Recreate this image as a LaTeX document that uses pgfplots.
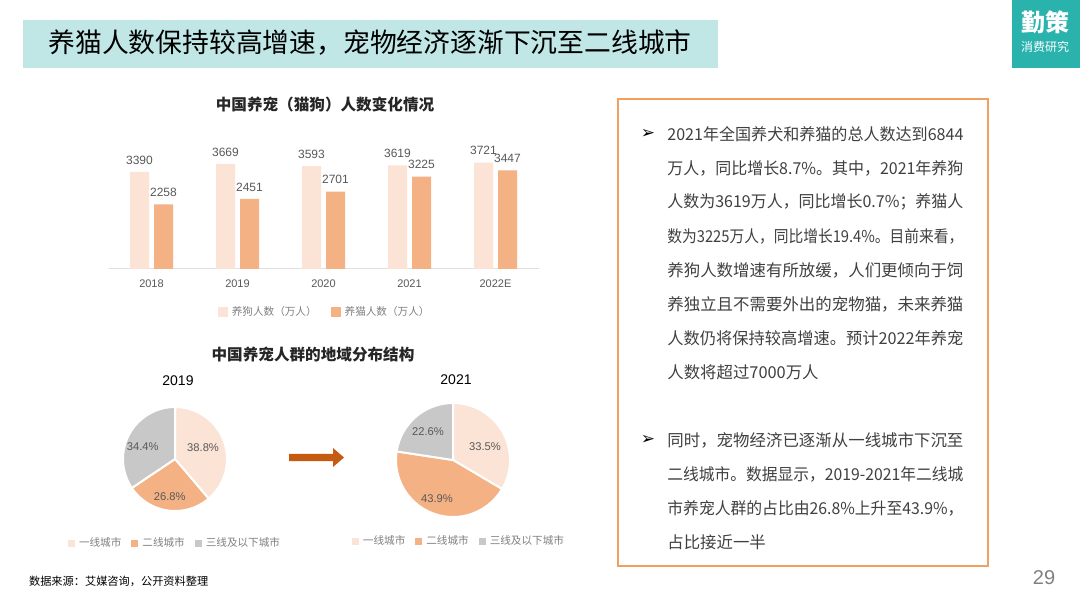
\documentclass[border=0pt]{standalone}
\usepackage{pgfplots}
\pgfplotsset{compat=1.18}
\usepackage{graphicx}
\usepackage{fontspec}
\setmainfont{Noto Sans CJK SC}
\newfontfamily\arial{Liberation Sans}
\newfontfamily\dejavu{DejaVu Sans}
\definecolor{banner}{HTML}{C0E6E6}
\definecolor{logoc}{HTML}{2AB3AD}
\definecolor{dogc}{HTML}{FBE3D6}
\definecolor{catc}{HTML}{F4B183}
\definecolor{grayc}{HTML}{C8C8C8}
\definecolor{txtgray}{HTML}{595959}
\definecolor{leggray}{HTML}{808080}
\definecolor{linegray}{HTML}{E0E0E0}
\definecolor{arrowc}{HTML}{C55A11}
\definecolor{boxc}{HTML}{F0A060}
\definecolor{bodyc}{HTML}{404040}
\pgfplotsset{
 sqleg/.style={legend image code/.code={\fill[##1,draw=none] (0pt,-2.5pt) rectangle (5pt,2.5pt);}},
 sqlegs/.style={legend image code/.code={\fill[##1,draw=none] (0pt,-1.75pt) rectangle (3.5pt,1.75pt);}},
}
\newcommand\tb{\fontsize{8.2}{9}\selectfont}
\newcommand\jl[1]{\resizebox{148pt}{\height}{#1}}
\begin{document}
\begin{tikzpicture}
\begin{scope}[x=0.5pt,y=-0.5pt]
\fill[white] (0,0) rectangle (1080,608);
\useasboundingbox (0,0) rectangle (1080,608);
% title banner
\fill[banner] (23,20) rectangle (718,68);
\node[font=\fontsize{13.4}{14}\selectfont, text=black] at (370,43) {养猫人数保持较高增速，宠物经济逐渐下沉至二线城市};
% logo
\fill[logoc] (1012,0) rectangle (1080,68);
\node[font=\fontsize{12}{12}\selectfont\bfseries, text=white] at (1045,22) {勤策};
\node[font=\fontsize{6}{6}\selectfont, text=white] at (1045,47) {消费研究};
% chart titles
\node[font=\fontsize{7.8}{8}\selectfont\bfseries, text=black!85] at (325,105) {中国养宠（猫狗）人数变化情况};
\node[font=\fontsize{7.8}{8}\selectfont\bfseries, text=black!85] at (313,355) {中国养宠人群的地域分布结构};
\node[font=\arial\fontsize{7}{8}\selectfont, text=black] at (178,381) {2019};
\node[font=\arial\fontsize{7}{8}\selectfont, text=black] at (456,380) {2021};
% arrow
\fill[arrowc] (289,454) -- (333,454) -- (333,448) -- (344,457.5) -- (333,467) -- (333,461) -- (289,461) -- cycle;
% text box
\draw[boxc, line width=1pt] (618,99) rectangle (988,566);
\node[font=\dejavu\fontsize{8.5}{9}\selectfont, text=black] at (648,134) {➢};
\node[font=\dejavu\fontsize{8.5}{9}\selectfont, text=black] at (648,440) {➢};
\begin{scope}[every node/.style={anchor=west, font=\tb, text=bodyc, inner sep=0pt}]
\node at (667,134) {\jl{2021年全国养犬和养猫的总人数达到6844}};
\node at (667,168) {\jl{万人，同比增长8.7\%。其中，2021年养狗}};
\node at (667,202) {\jl{人数为3619万人，同比增长0.7\%；养猫人}};
\node at (667,236) {\jl{数为3225万人，同比增长19.4\%。目前来看，}};
\node at (667,270) {\jl{养狗人数增速有所放缓，人们更倾向于饲}};
\node at (667,304) {\jl{养独立且不需要外出的宠物猫，未来养猫}};
\node at (667,338) {\jl{人数仍将保持较高增速。预计2022年养宠}};
\node at (667,372) {人数将超过7000万人};
\node at (667,440) {\jl{同时，宠物经济已逐渐从一线城市下沉至}};
\node at (667,474) {\jl{二线城市。数据显示，2019-2021年二线城}};
\node at (667,508) {\jl{市养宠人群的占比由26.8\%上升至43.9\%，}};
\node at (667,542) {占比接近一半};
\end{scope}
% footer
\node[anchor=west, font=\fontsize{5.6}{6}\selectfont, text=black] at (22,581) {数据来源：艾媒咨询，公开资料整理};
\node[font=\arial\fontsize{10}{10}\selectfont, text=leggray] at (1044,578) {29};
\end{scope}

% bar chart
\begin{axis}[
  at={(54.25pt,-134.5pt)}, anchor=south west, scale only axis,
  width=215pt, height=60.1pt,
  xmin=-0.5, xmax=4.5, ymin=0, ymax=4200,
  ybar=2.5pt, bar width=9.5pt,
  axis x line*=bottom, axis y line=none,
  axis line style={draw=linegray, line width=0.5pt},
  xtick={0,1,2,3,4}, xticklabels={2018,2019,2020,2021,2022E},
  major tick length=0pt,
  xticklabel style={font=\arial\fontsize{5.5}{6}\selectfont, text=txtgray, yshift=-2pt},
  /pgf/number format/fixed, /pgf/number format/precision=0,
  /pgf/number format/1000 sep={}, /pgf/number format/assume math mode=true,
  point meta=y,
  nodes near coords,
  nodes near coords style={font=\arial\fontsize{6}{7}\selectfont, text=txtgray, yshift=0.3pt},
  legend style={at={(0.505,-0.358)}, anchor=center, legend columns=2, draw=none, fill=none,
    font=\fontsize{5.3}{6}\selectfont, text=leggray,
    /tikz/every even column/.append style={column sep=5pt}},
]
\addplot[fill=dogc, draw=none, sqleg] coordinates {(0,3390) (1,3669) (2,3593) (3,3619) (4,3721)};
\addplot[fill=catc, draw=none, sqleg] coordinates {(0,2258) (1,2451) (2,2701) (3,3225) (4,3447)};
\legend{养狗人数（万人）,养猫人数（万人）}
\end{axis}

% pie 2019
\begin{axis}[
  at={(87.5pt,-229.5pt)}, anchor=center, scale only axis,
  width=52pt, height=52pt, xmin=-1, xmax=1, ymin=-1, ymax=1,
  hide axis, clip=false, sqlegs,
  legend style={at={(0.51,-0.308)}, anchor=center, legend columns=3, draw=none, fill=none,
    font=\fontsize{5.3}{6}\selectfont, text=leggray,
    /tikz/every even column/.append style={column sep=3pt}},
]
\addlegendimage{fill=dogc}\addlegendentry{一线城市}
\addlegendimage{fill=catc}\addlegendentry{二线城市}
\addlegendimage{fill=grayc}\addlegendentry{三线及以下城市}
\fill[dogc, draw=white, line width=1pt] (axis cs:0,0) -- ++(90:26pt) arc[start angle=90, delta angle={-38.8*3.6}, radius=26pt] -- cycle;
\fill[catc, draw=white, line width=1pt] (axis cs:0,0) -- ++({90-38.8*3.6}:26pt) arc[start angle={90-38.8*3.6}, delta angle={-26.8*3.6}, radius=26pt] -- cycle;
\fill[grayc, draw=white, line width=1pt] (axis cs:0,0) -- ++({90-65.6*3.6}:26pt) arc[start angle={90-65.6*3.6}, delta angle={-34.4*3.6}, radius=26pt] -- cycle;
\node[font=\arial\fontsize{5.6}{6}\selectfont, text=txtgray] at (axis cs:0.54,0.21) {38.8\%};
\node[font=\arial\fontsize{5.6}{6}\selectfont, text=txtgray] at (axis cs:-0.10,-0.73) {26.8\%};
\node[font=\arial\fontsize{5.6}{6}\selectfont, text=txtgray] at (axis cs:-0.62,0.23) {34.4\%};
\end{axis}

% pie 2021
\begin{axis}[
  at={(226.5pt,-230pt)}, anchor=center, scale only axis,
  width=57pt, height=57pt, xmin=-1, xmax=1, ymin=-1, ymax=1,
  hide axis, clip=false, sqlegs,
  legend style={at={(0.561,-0.219)}, anchor=center, legend columns=3, draw=none, fill=none,
    font=\fontsize{5.3}{6}\selectfont, text=leggray,
    /tikz/every even column/.append style={column sep=3pt}},
]
\addlegendimage{fill=dogc}\addlegendentry{一线城市}
\addlegendimage{fill=catc}\addlegendentry{二线城市}
\addlegendimage{fill=grayc}\addlegendentry{三线及以下城市}
\fill[dogc, draw=white, line width=1pt] (axis cs:0,0) -- ++(90:28.5pt) arc[start angle=90, delta angle={-33.5*3.6}, radius=28.5pt] -- cycle;
\fill[catc, draw=white, line width=1pt] (axis cs:0,0) -- ++({90-33.5*3.6}:28.5pt) arc[start angle={90-33.5*3.6}, delta angle={-43.9*3.6}, radius=28.5pt] -- cycle;
\fill[grayc, draw=white, line width=1pt] (axis cs:0,0) -- ++({90-77.4*3.6}:28.5pt) arc[start angle={90-77.4*3.6}, delta angle={-22.6*3.6}, radius=28.5pt] -- cycle;
\node[font=\arial\fontsize{5.6}{6}\selectfont, text=txtgray] at (axis cs:0.56,0.23) {33.5\%};
\node[font=\arial\fontsize{5.6}{6}\selectfont, text=txtgray] at (axis cs:-0.28,-0.68) {43.9\%};
\node[font=\arial\fontsize{5.6}{6}\selectfont, text=txtgray] at (axis cs:-0.44,0.49) {22.6\%};
\end{axis}
\end{tikzpicture}
\end{document}
